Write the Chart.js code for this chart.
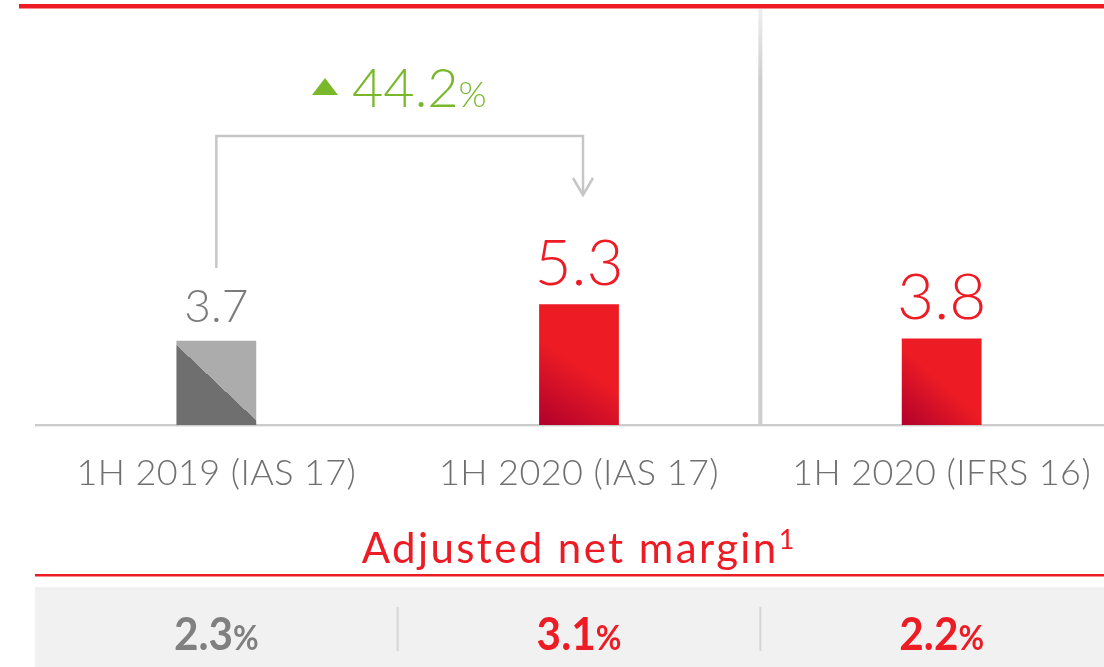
<!DOCTYPE html>
<html>
<head>
<meta charset="utf-8">
<script src="https://cdn.jsdelivr.net/npm/chart.js@4/dist/chart.umd.min.js"></script>
<style>
html,body{margin:0;padding:0;background:#fff;overflow:hidden;width:1104px;height:667px;}
#wrap{position:relative;width:1104px;height:667px;overflow:hidden;}
canvas{display:block;}
</style>
</head>
<body>
<div id="wrap"><canvas id="c" width="1123" height="667"></canvas></div>
<script>
const categories = ['1H 2019 (IAS 17)', '1H 2020 (IAS 17)', '1H 2020 (IFRS 16)'];
const values = [3.7, 5.3, 3.8];
const valueLabels = ['3.7', '5.3', '3.8'];
const marginValues = ['2.3', '3.1', '2.2'];
const changeLabel = '44.2';
const sectionTitle = 'Adjusted net margin';
const footnoteMark = '1';

const RED = '#ed1c24';
const GRAY_TXT = '#7b7b7b';
const GREEN = '#78b82a';
const THIN = '"Lato", "Open Sans", "Noto Sans", sans-serif';

function barGeom(chart, i) {
  const xs = chart.scales.x, ys = chart.scales.y;
  const w = (chart.chartArea.right - chart.chartArea.left) / categories.length * 0.22;
  const cx = xs.getPixelForValue(i);
  return {l: cx - w / 2, r: cx + w / 2, t: ys.getPixelForValue(values[i]), b: ys.getPixelForValue(0), cx};
}

function fillFor(ctx) {
  const chart = ctx.chart;
  if (!chart.chartArea) return '#999';
  const i = ctx.dataIndex;
  const g0 = barGeom(chart, i);
  const c = chart.ctx;
  const g = c.createLinearGradient(g0.l, g0.b, g0.r, g0.t);
  if (i === 0) {
    g.addColorStop(0, '#6f6f6f');
    g.addColorStop(0.5, '#6f6f6f');
    g.addColorStop(0.5, '#acacac');
    g.addColorStop(1, '#acacac');
  } else {
    g.addColorStop(0, '#b0002c');
    g.addColorStop(0.5, RED);
    g.addColorStop(1, RED);
  }
  return g;
}

const decor = {
  id: 'decor',
  beforeDraw(chart) {
    const c = chart.ctx;
    const xs = chart.scales.x;
    const base = chart.scales.y.getPixelForValue(0);
    const step = xs.getPixelForValue(1) - xs.getPixelForValue(0);
    c.save();
    c.fillStyle = RED;
    c.fillRect(19, 4, 1104, 4.5);
    const dx = xs.getPixelForValue(1) + step / 2;
    const vg = c.createLinearGradient(0, 0, 0, 80);
    vg.addColorStop(0, '#f3f3f3');
    vg.addColorStop(1, '#cdcdcd');
    c.fillStyle = vg;
    c.fillRect(dx - 2, 9, 4, base - 9);
    c.fillStyle = '#cccccc';
    c.fillRect(35, base - 1, 1104, 2.4);
    c.fillStyle = '#f1f1f1';
    c.fillRect(35, 587, 1104, 80);
    c.fillStyle = '#d6d6d6';
    for (let k = 1; k < categories.length; k++) {
      const sx = xs.getPixelForValue(k) - step / 2;
      c.fillRect(sx - 1, 607, 2, 44);
    }
    c.fillStyle = RED;
    c.fillRect(35, 574, 1104, 2.5);
    c.restore();
  },
  afterDraw(chart) {
    const c = chart.ctx;
    const xs = chart.scales.x;
    c.save();
    c.textBaseline = 'alphabetic';
    c.textAlign = 'center';
    for (let i = 0; i < values.length; i++) {
      const g = barGeom(chart, i);
      if (i === 0) {
        c.font = '300 46px ' + THIN;
        c.fillStyle = GRAY_TXT;
      } else {
        c.font = '300 64px ' + THIN;
        c.fillStyle = RED;
      }
      c.fillText(valueLabels[i], g.cx, g.t - 19);
    }
    c.font = '300 36px ' + THIN;
    c.fillStyle = '#6f6f6f';
    c.letterSpacing = '0.4px';
    categories.forEach((cat, i) => c.fillText(cat, xs.getPixelForValue(i), 485));
    // section title
    c.letterSpacing = '2.4px';
    c.font = '400 42px ' + THIN;
    c.fillStyle = RED;
    c.textAlign = 'left';
    const tw = c.measureText(sectionTitle).width;
    c.letterSpacing = '0px';
    c.font = '400 27px ' + THIN;
    const fw = c.measureText(footnoteMark).width;
    const tx = 578 - (tw + fw) / 2;
    c.letterSpacing = '2.4px';
    c.font = '400 42px ' + THIN;
    c.fillText(sectionTitle, tx, 563);
    c.letterSpacing = '0px';
    c.font = '400 27px ' + THIN;
    c.fillText(footnoteMark, tx + tw, 549);
    // margin values (condensed bold)
    marginValues.forEach((v, i) => {
      const cx = xs.getPixelForValue(i);
      const sx = 0.92;
      c.font = 'bold 46px ' + THIN;
      const w1 = c.measureText(v).width;
      c.font = 'bold 34px ' + THIN;
      const w2 = c.measureText('%').width;
      const total = (w1 + w2) * sx;
      c.save();
      c.translate(cx - total / 2, 650);
      c.scale(sx, 1);
      c.fillStyle = i === 0 ? '#808080' : RED;
      c.font = 'bold 46px ' + THIN;
      c.fillText(v, 0, 0);
      c.font = 'bold 34px ' + THIN;
      c.fillText('%', w1, 0);
      c.restore();
    });
    // bracket arrow
    const x0 = xs.getPixelForValue(0), x1 = xs.getPixelForValue(1);
    c.strokeStyle = '#c6c6c6';
    c.lineWidth = 2.5;
    c.beginPath();
    c.moveTo(x0, 268);
    c.lineTo(x0, 136);
    c.lineTo(x1 + 4, 136);
    c.lineTo(x1 + 4, 195);
    c.stroke();
    c.beginPath();
    c.moveTo(x1 - 6, 178);
    c.lineTo(x1 + 4, 195);
    c.lineTo(x1 + 14, 178);
    c.stroke();
    // change label
    c.fillStyle = GREEN;
    c.beginPath();
    c.moveTo(312, 95);
    c.lineTo(325, 78);
    c.lineTo(338, 95);
    c.closePath();
    c.fill();
    c.font = '300 54px ' + THIN;
    c.fillText(changeLabel, 352, 107);
    const cw = c.measureText(changeLabel).width;
    c.font = '300 36px ' + THIN;
    c.fillText('%', 352 + cw, 107);
    c.restore();
  }
};

new Chart(document.getElementById('c'), {
  type: 'bar',
  data: {
    labels: categories,
    datasets: [{
      data: values,
      backgroundColor: fillFor,
      borderWidth: 0,
      barPercentage: 0.22,
      categoryPercentage: 1
    }]
  },
  options: {
    responsive: false,
    devicePixelRatio: 1,
    animation: false,
    layout: {padding: {left: 35, right: 0, top: 15, bottom: 242}},
    plugins: {legend: {display: false}, tooltip: {enabled: false}},
    scales: {
      x: {display: false},
      y: {display: false, min: 0, max: 18}
    }
  },
  plugins: [decor]
});
</script>
</body>
</html>
